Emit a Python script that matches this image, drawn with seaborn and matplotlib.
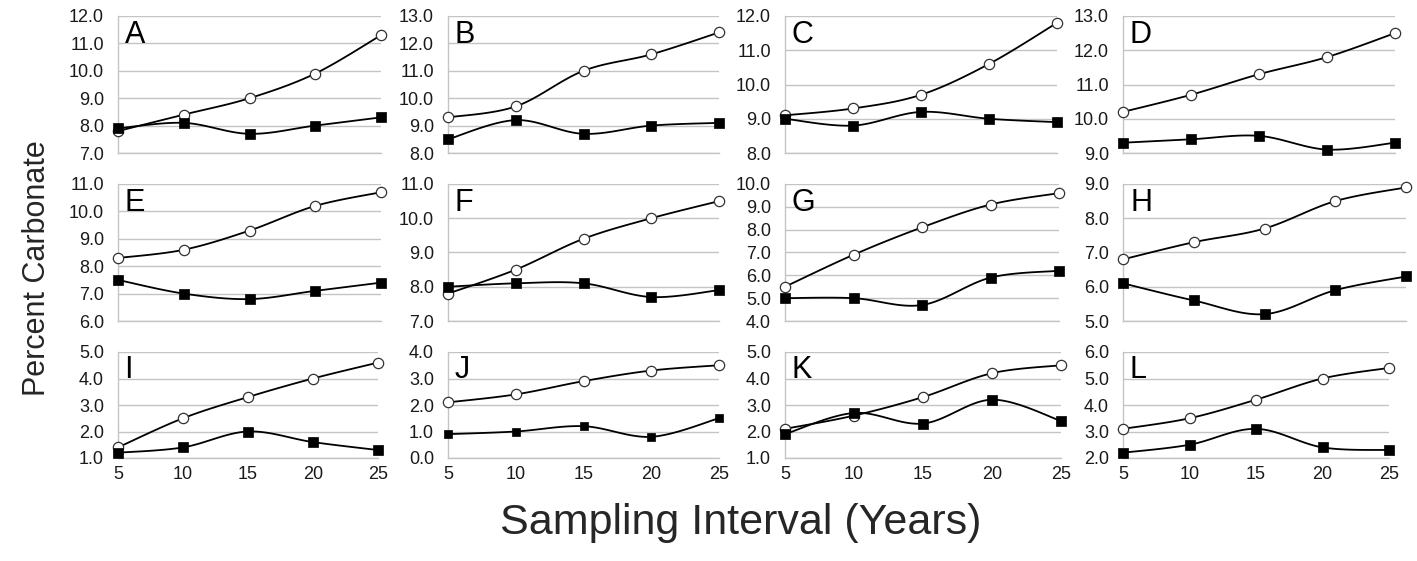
import numpy as np
import pandas as pd
import matplotlib
matplotlib.use("Agg")
import matplotlib.pyplot as plt
import seaborn as sns

sns.set_theme(style="white")
plt.rcParams['font.family'] = ['Liberation Sans', 'DejaVu Sans']

# ---------------- data ----------------
years = [5, 10, 15, 20, 25]
panel_labels = ["A", "B", "C", "D", "E", "F", "G", "H", "I", "J", "K", "L"]

open_A = [7.8, 8.4, 9.0, 9.9, 11.3]
filled_A = [7.9, 8.1, 7.7, 8.0, 8.3]
open_B = [9.3, 9.7, 11.0, 11.6, 12.4]
filled_B = [8.5, 9.2, 8.7, 9.0, 9.1]
open_C = [9.1, 9.3, 9.7, 10.6, 11.8]
filled_C = [9.0, 8.8, 9.2, 9.0, 8.9]
open_D = [10.2, 10.7, 11.3, 11.8, 12.5]
filled_D = [9.3, 9.4, 9.5, 9.1, 9.3]
open_E = [8.3, 8.6, 9.3, 10.2, 10.7]
filled_E = [7.5, 7.0, 6.8, 7.1, 7.4]
open_F = [7.8, 8.5, 9.4, 10.0, 10.5]
filled_F = [8.0, 8.1, 8.1, 7.7, 7.9]
open_G = [5.5, 6.9, 8.1, 9.1, 9.6]
filled_G = [5.0, 5.0, 4.7, 5.9, 6.2]
open_H = [6.8, 7.3, 7.7, 8.5, 8.9]
filled_H = [6.1, 5.6, 5.2, 5.9, 6.3]
open_I = [1.4, 2.5, 3.3, 4.0, 4.6]
filled_I = [1.2, 1.4, 2.0, 1.6, 1.3]
open_J = [2.1, 2.4, 2.9, 3.3, 3.5]
filled_J = [0.9, 1.0, 1.2, 0.8, 1.5]
open_K = [2.1, 2.6, 3.3, 4.2, 4.5]
filled_K = [1.9, 2.7, 2.3, 3.2, 2.4]
open_L = [3.1, 3.5, 4.2, 5.0, 5.4]
filled_L = [2.2, 2.5, 3.1, 2.4, 2.3]

open_series = [open_A, open_B, open_C, open_D, open_E, open_F,
               open_G, open_H, open_I, open_J, open_K, open_L]
filled_series = [filled_A, filled_B, filled_C, filled_D, filled_E, filled_F,
                 filled_G, filled_H, filled_I, filled_J, filled_K, filled_L]

y_min = [7, 8, 8, 9, 6, 7, 4, 5, 1, 0, 1, 2]
y_max = [12, 13, 12, 13, 11, 11, 10, 9, 5, 4, 5, 6]

x_label = "Sampling Interval (Years)"
y_label = "Percent Carbonate"

# ---------------- layout (pixels) ----------------
W, H = 1417, 561
col_left = [118, 448, 785, 1123]
panel_right = [381, 719, 1057, 1395,
               381, 719, 1059, 1406,
               378, 719, 1061, 1389]
row_top = [16, 184, 352]
row_bot = [153, 321, 458]

GRID = "#c4c4c4"


def smooth(x, y, n=24):
    """Excel-style smoothed line (Catmull-Rom Bezier) through the data points."""
    x = np.asarray(x, float)
    y = np.asarray(y, float)
    P = np.column_stack([x, y])
    pts = []
    m = len(P)
    for i in range(m - 1):
        p0 = P[i - 1] if i > 0 else P[i]
        p1 = P[i]
        p2 = P[i + 1]
        p3 = P[i + 2] if i + 2 < m else P[i + 1]
        c1 = p1 + (p2 - p0) / 6.0
        c2 = p2 - (p3 - p1) / 6.0
        t = np.linspace(0, 1, n)[:, None]
        seg = ((1 - t) ** 3) * p1 + 3 * ((1 - t) ** 2) * t * c1 + 3 * (1 - t) * t ** 2 * c2 + t ** 3 * p2
        pts.append(seg if i == 0 else seg[1:])
    pts = np.vstack(pts)
    return pts[:, 0], pts[:, 1]


fig = plt.figure(figsize=(W / 100, H / 100), dpi=100)

for k, lab in enumerate(panel_labels):
    r, c = divmod(k, 4)
    left = col_left[c]
    right = panel_right[k]
    top = row_top[r]
    bot = row_bot[r]
    ax = fig.add_axes([left / W, 1 - bot / H, (right - left) / W, (bot - top) / H])

    df = pd.DataFrame({"year": years, "open": open_series[k], "filled": filled_series[k]})

    ax.set_xlim(years[0], years[-1])
    ax.set_ylim(y_min[k], y_max[k])
    ax.set_yticks(np.arange(y_min[k], y_max[k] + 0.01, 1.0))
    ax.yaxis.set_major_formatter(matplotlib.ticker.FormatStrFormatter("%.1f"))
    ax.set_xticks(years)
    ax.grid(axis="y", color=GRID, lw=1.0)
    ax.grid(axis="x", visible=False)
    ax.set_axisbelow(True)
    for s in ["top", "right"]:
        ax.spines[s].set_visible(False)
    for s in ["left", "bottom"]:
        ax.spines[s].set_color(GRID)
        ax.spines[s].set_linewidth(1.0)
    ax.tick_params(axis="y", length=0, labelsize=13, pad=10, colors="#1a1a1a")
    ax.tick_params(axis="x", direction="inout", length=7, width=1.0, color=GRID,
                   labelsize=13, pad=2, labelcolor="#1a1a1a")
    if r < 2:
        ax.set_xticklabels([])
    ax.set_facecolor("none")

    # open-circle series
    sx, sy = smooth(df["year"], df["open"])
    ax.plot(sx, sy, color="black", lw=1.3, clip_on=False, zorder=3)
    sns.scatterplot(data=df, x="year", y="open", ax=ax, marker="o", s=55,
                    facecolor="white", edgecolor="#333333", linewidth=0.9,
                    clip_on=False, zorder=4, legend=False)
    # filled-square series
    fx, fy = smooth(df["year"], df["filled"])
    ax.plot(fx, fy, color="black", lw=1.3, clip_on=False, zorder=5)
    sq = 28 if lab == "J" else 60
    sns.scatterplot(data=df, x="year", y="filled", ax=ax, marker="s", s=sq,
                    color="black", edgecolor="black", linewidth=0.5,
                    clip_on=False, zorder=6, legend=False)

    ax.set_xlabel("")
    ax.set_ylabel("")
    ax.text(0.025, 0.97, lab, transform=ax.transAxes, ha="left", va="top",
            fontsize=22, color="black")

fig.text(741 / W, 1 - 523 / H, x_label, ha="center", va="center", fontsize=31)
fig.text(37 / W, 1 - 268 / H, y_label, ha="center", va="center", rotation=90, fontsize=22)

fig.savefig("out.png", dpi=100)
